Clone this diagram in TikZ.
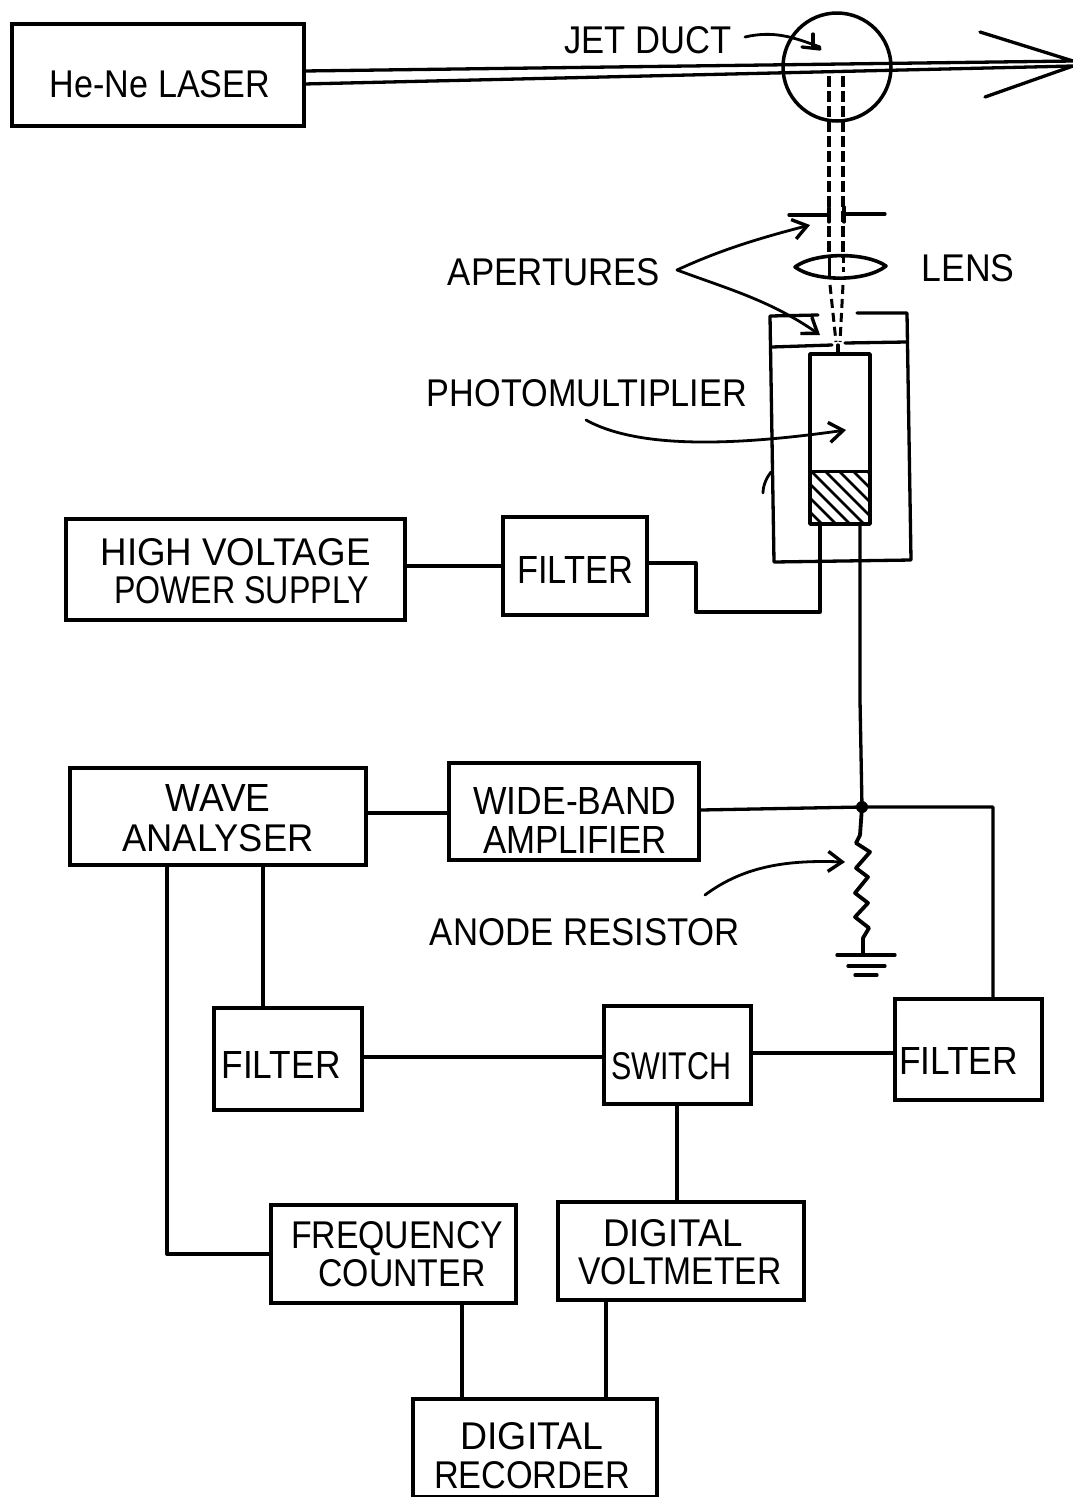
\documentclass[tikz,border=0pt]{standalone}
\usepackage{fontspec}
\setmainfont{Liberation Sans}
\usetikzlibrary{arrows.meta,calc}
\newcommand{\TT}[2]{\resizebox{#1pt}{27pt}{\mbox{#2}}}
\newcommand{\SH}[3]{\raisebox{\dimexpr-#2pt-12pt\relax}[0pt][0pt]{\makebox[0pt]{\hspace*{\dimexpr2\dimexpr#1pt\relax\relax}\begin{tabular}[c]{@{}c@{}}#3\end{tabular}}}}
\tikzset{
  boxn/.style={draw,line width=3.5pt,inner sep=0pt,font=\fontsize{30}{38}\selectfont},
  wire/.style={line width=3.3pt,line cap=round,line join=round},
  thin wire/.style={line width=2.8pt,line cap=round,line join=round},
  beamd/.style={line width=3.4pt,dash pattern=on 11pt off 4pt},
  lead/.style={line width=2.8pt,line cap=round,-{Straight Barb[length=14pt,width=20pt,line width=3.4pt]}},
  lab/.style={inner sep=0pt,font=\fontsize{30}{38}\selectfont}
}
\begin{document}
\begin{tikzpicture}[x=1pt,y=-1pt]
\useasboundingbox (0,0) rectangle (1073,1497);
% boxes
\node[boxn,minimum width=292pt,minimum height=102pt] (laser) at (158,75) {\SH{2}{9}{\TT{220}{He-Ne LASER}}};
\node[boxn,minimum width=339pt,minimum height=101pt] (hv) at (235.5,569.5) {\SH{0}{1.5}{\TT{270}{HIGH VOLTAGE}\\\hspace*{12pt}\TT{255}{POWER SUPPLY}}};
\node[boxn,minimum width=144pt,minimum height=98pt] (fa) at (575,566) {\SH{0}{4}{\TT{116}{FILTER}}};
\node[boxn,minimum width=296pt,minimum height=97pt] (wave) at (218,816.5) {\SH{0}{1.5}{\TT{105}{WAVE}\\[2pt]\TT{191}{ANALYSER}}};
\node[boxn,minimum width=250pt,minimum height=97pt] (wb) at (574,811.5) {\SH{1}{9}{\TT{203}{WIDE-BAND}\\\TT{184}{AMPLIFIER}}};
\node[boxn,minimum width=148pt,minimum height=102pt] (fb) at (288,1059) {\SH{-7}{6}{\TT{119}{FILTER}}};
\node[boxn,minimum width=147pt,minimum height=98pt] (sw) at (677.5,1055) {\SH{-6.5}{11}{\TT{120}{SWITCH}}};
\node[boxn,minimum width=147pt,minimum height=101pt] (fc) at (968.5,1049.5) {\SH{-10}{11}{\TT{119}{FILTER}}};
\node[boxn,minimum width=245pt,minimum height=98pt] (freq) at (393.5,1254) {\SH{3.5}{0}{\TT{212}{FREQUENCY}\\\hspace*{10pt}\TT{167}{COUNTER}}};
\node[boxn,minimum width=246pt,minimum height=98pt] (dv) at (681,1251) {\SH{-1}{1}{\hspace*{-14pt}\TT{140}{DIGITAL}\\\TT{203}{VOLTMETER}}};
\node[boxn,minimum width=244pt,minimum height=98pt] (rec) at (535,1448) {\SH{-3}{7.5}{\TT{143}{DIGITAL}\\\TT{196}{RECORDER}}};
\node[draw,circle,line width=3.5pt,minimum size=108pt,inner sep=0pt] (duct) at (837,67) {};
% free labels
\node[lab] (tjet) at (648,40) {\TT{167}{JET DUCT}};
\node[lab] (tlens) at (968,268) {\TT{93}{LENS}};
\node[lab] (tap) at (554,272) {\TT{212}{APERTURES}};
\node[lab] (tpm) at (587,393) {\TT{320}{PHOTOMULTIPLIER}};
\node[lab] (tan) at (585,932) {\TT{310}{ANODE RESISTOR}};
% named points
\coordinate (beamUa) at (304,71);  \coordinate (beamUb) at (1073,61);
\coordinate (beamLa) at (304,84);  \coordinate (beamLb) at (1073,66);
\coordinate (barbU) at (980,32);   \coordinate (barbL) at (985,97);
\coordinate (junction) at (862,807);
\coordinate (tubeBL) at (820,524); \coordinate (tubeBR) at (860,524);
\coordinate (fbend) at (696,563);  \coordinate (fbendb) at (696,612);
% beam
\draw[wire] (beamUa) -- (beamUb) -- (barbU);
\draw[wire] (beamLa) -- (beamLb) -- (barbL);
% viewing beams
\draw[beamd] (829,76) -- (829,258);
\draw[beamd] (843,76) -- (843,258);
\draw[line width=3pt,dash pattern=on 9pt off 5pt] (830,285) -- (836,342);
\draw[line width=3pt,dash pattern=on 9pt off 5pt] (843,285) -- (840,342);
\draw[line width=3pt] (829,258) -- (829,276);
\draw[line width=3pt,dash pattern=on 5pt off 4pt] (843,258) -- (843,276);
% aperture 1
\draw[wire] (789,215) -- (829,215);
\draw[wire] (844,214) -- (885,214);
\draw[wire] (829,208) -- (829,222);
\draw[wire] (844,207) -- (844,222);
% lens
\draw[line width=3.6pt,line join=round] (795,267) .. controls (815,252) and (866,252) .. (886,266) .. controls (866,282) and (815,282) .. (795,267) -- cycle;
% housing
\draw[wire] (818,315) -- (770,316) -- (774,562) -- (911,560) -- (907,313) -- (857,313);
\draw[wire] (772,347) -- (832,345);
\draw[wire] (845,343) -- (906,342);
\draw[wire] (838,345) -- (838,354);
% tube
\begin{scope}
\clip (811,471) rectangle (870,524);
\foreach \k in {0,14,...,126} \draw[line width=2.8pt] (800+\k,530) -- (800+\k-70,460);
\end{scope}
\draw[line width=3.8pt,line join=round] (810,354) rectangle (870,524);
\draw[line width=3pt] (810,471) -- (870,471);
\draw[line width=4.5pt] (810,524) -- (870,524);
% leads
\draw[wire] (fa.east |- fbend) -- (fbend) -- (fbendb) -| (tubeBL);
\draw[wire] (hv.east |- 0,566) -- (fa.west |- 0,566);
\draw[wire] (tubeBR) -- (860,700) -- (junction);
\fill (junction) circle (6pt);
\draw[wire] (wb.east |- 0,810) -- (junction) -- (993,807) -- (fc.north -| 993,0);
\draw[wire] (wave.east |- 0,813) -- (wb.west |- 0,813);
\draw[wire] (263,0 |- wave.south) -- (263,0 |- fb.north);
\draw[wire] (167,0 |- wave.south) -- (167,1254) -- (freq.west |- 0,1254);
\draw[wire] (fb.east |- 0,1057) -- (sw.west |- 0,1057);
\draw[wire] (sw.east |- 0,1053) -- (fc.west |- 0,1053);
\draw[wire] (677,0 |- sw.south) -- (677,0 |- dv.north);
\draw[wire] (462,0 |- freq.south) -- (462,0 |- rec.north);
\draw[wire] (606,0 |- dv.south) -- (606,0 |- rec.north);
% resistor
\draw[line width=3.8pt,line join=round,line cap=round] (junction) -- (860,835) -- (856,843) -- (870,852) -- (856,868) -- (868,877) -- (855,893) -- (868,903) -- (855,917) -- (869,928) -- (863,938) -- (863,955);
\draw[wire] (837,955) -- (895,955);
\draw[wire] (848,966) -- (885,966);
\draw[wire] (855,975) -- (877,975);
% pointers
\coordinate (apx) at (677,270);
\draw[lead] (apx) .. controls (720,250) and (760,238) .. (810,225);
\draw[lead] (apx) .. controls (725,288) and (770,300) .. (820,335);
\draw[lead] (586,420) .. controls (640,450) and (740,445) .. (846,430);
\draw[lead] (705,895) .. controls (745,865) and (790,860) .. (845,862);
\draw[thin wire] (745,37) .. controls (775,30) and (795,38) .. (820,47);
\draw[wire] (802,47) -- (820,49);
\draw[wire] (813,34) -- (813,48);
\draw[thin wire] (763,493) .. controls (763,485) and (767,477) .. (771,472);
\end{tikzpicture}
\end{document}
